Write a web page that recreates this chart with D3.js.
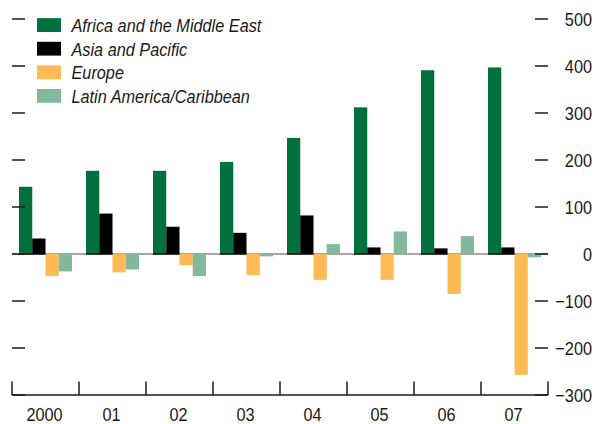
<!DOCTYPE html>
<html><head><meta charset="utf-8">
<script src="https://cdn.jsdelivr.net/npm/d3@7"></script>
<style>body{margin:0;background:#fff}svg{display:block}text{font-family:"Liberation Sans",Arial,sans-serif;fill:#1a1a1a}</style>
</head><body><svg id="c" width="595" height="424"></svg>
<script>
const categories = ["2000","01","02","03","04","05","06","07"];
const seriesNames = ["Africa and the Middle East","Asia and Pacific","Europe","Latin America/Caribbean"];
const africaME = [143,177,177,196,247,312,391,397];
const asiaPac = [33,86,58,45,82,14,12,14];
const europe = [-47,-39,-24,-45,-55,-55,-85,-257];
const latAm = [-37,-33,-47,-5,21,48,38,-7];
const yTicks = [500,400,300,200,100,0,-100,-200,-300];
const colors = ["#00703c","#000000","#fdbb55","#82b99c"];
const seriesValues = [africaME, asiaPac, europe, latAm];

const svg = d3.select("#c");
const x = d3.scaleBand().domain(categories).range([12,548]);
const xi = d3.scaleBand().domain(d3.range(4)).range([7,60]);
const y = d3.scaleLinear().domain([-300,500]).range([395,19]);
const SX = 0.88, FS = 18.5;

// zero line
svg.append("line").attr("x1",12).attr("x2",548).attr("y1",y(0)).attr("y2",y(0))
  .attr("stroke","#8a8a8a").attr("stroke-width",1.5);

// bars
seriesValues.forEach((vals,si)=>{
  svg.append("g").selectAll("rect").data(vals).join("rect")
    .attr("x",(d,i)=>x(categories[i])+xi(si))
    .attr("width",xi.bandwidth())
    .attr("y",d=>y(Math.max(0,d)))
    .attr("height",d=>Math.abs(y(d)-y(0)))
    .attr("fill",colors[si]);
});
// dark baseline under the positive bar pairs
svg.append("g").selectAll("line").data(categories).join("line")
  .attr("x1",d=>x(d)+xi(0)).attr("x2",d=>x(d)+xi(1)+xi.bandwidth())
  .attr("y1",y(0)).attr("y2",y(0)).attr("stroke","#111").attr("stroke-width",1.5);

// left & right tick marks
const tickG = svg.append("g").attr("stroke","#1a1a1a").attr("stroke-width",1.5);
yTicks.forEach(t=>{
  tickG.append("line").attr("x1",12).attr("x2",25).attr("y1",y(t)).attr("y2",y(t));
  tickG.append("line").attr("x1",535).attr("x2",548).attr("y1",y(t)).attr("y2",y(t));
});
// right labels
const fmt = v => v<0 ? "\u2212"+Math.abs(v) : String(v);
yTicks.forEach(t=>{
  svg.append("text").attr("transform",`translate(592,${y(t)+6.7}) scale(${SX},1)`)
    .attr("text-anchor","end").attr("font-size",FS).text(fmt(t));
});

// bottom axis
const ax = svg.append("g").attr("transform",`translate(0,${y(-300)})`);
ax.append("line").attr("x1",12).attr("x2",548).attr("stroke","#1a1a1a").attr("stroke-width",1.5);
const bounds = categories.map(c=>x(c)).concat([x.range()[1]]);
ax.selectAll("line.tk").data(bounds).join("line").attr("class","tk")
  .attr("x1",d=>d).attr("x2",d=>d).attr("y1",0).attr("y2",-13.5)
  .attr("stroke","#1a1a1a").attr("stroke-width",1.5);
ax.selectAll("text").data(categories).join("text")
  .attr("transform",d=>`translate(${x(d)+x.bandwidth()/2-1},25.8) scale(${SX},1)`)
  .attr("text-anchor","middle").attr("font-size",FS).text(d=>d);

// legend
const lg = svg.append("g");
seriesNames.forEach((n,i)=>{
  const by = 32 + i*23.6;
  lg.append("rect").attr("x",37).attr("y",by-13.8).attr("width",24).attr("height",13.8).attr("fill",colors[i]);
  lg.append("text").attr("transform",`translate(71.5,${by}) scale(${SX},1)`)
    .attr("font-size",FS).attr("font-style","italic").text(n);
});
</script></body></html>
